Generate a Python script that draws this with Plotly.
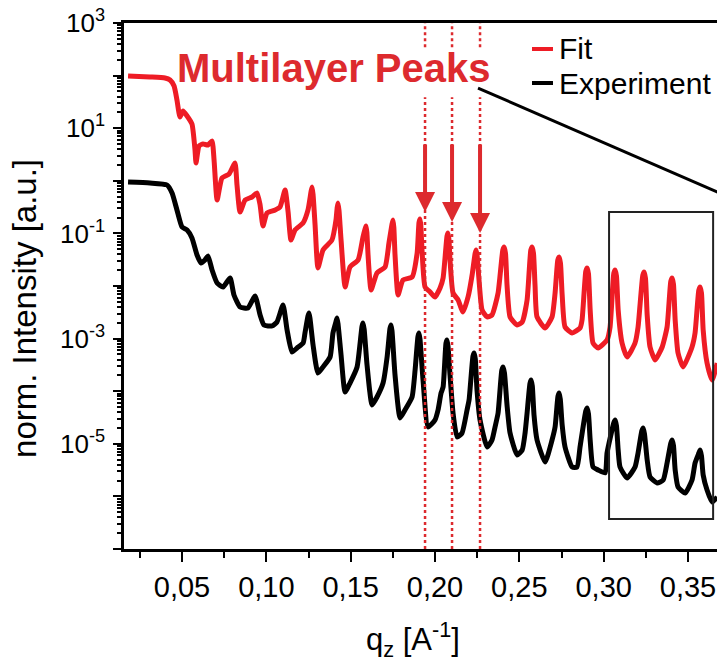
import plotly.graph_objects as go

# ---------------- data ----------------
q_fit = [0.0180, 0.0310, 0.0399, 0.0429, 0.0453, 0.0470, 0.0488, 0.0506, 0.0530, 0.0559,
         0.0577, 0.0583, 0.0601, 0.0625, 0.0654, 0.0678, 0.0690, 0.0708, 0.0737, 0.0779,
         0.0814, 0.0826, 0.0844, 0.0874, 0.0915, 0.0945, 0.0963, 0.0980, 0.1004, 0.1052,
         0.1081, 0.1111, 0.1129, 0.1146, 0.1170, 0.1218, 0.1247, 0.1265, 0.1271, 0.1277, 0.1289, 0.1306,
         0.1336, 0.1389, 0.1413, 0.1420, 0.1425, 0.1431, 0.1443, 0.1467, 0.1496, 0.1544, 0.1573, 0.1585, 0.1591, 0.1596,
         0.1603, 0.1621, 0.1656, 0.1704, 0.1727, 0.1745, 0.1751, 0.1756, 0.1763, 0.1781, 0.1810, 0.1864,
         0.1894, 0.1905, 0.1911, 0.1916, 0.1923, 0.1941, 0.1971, 0.2000, 0.2030, 0.2048, 0.2071, 0.2077, 0.2083, 0.2089,
         0.2107, 0.2137, 0.2166, 0.2196, 0.2220, 0.2238, 0.2244, 0.2250, 0.2261, 0.2279, 0.2309, 0.2338,
         0.2374, 0.2402, 0.2410, 0.2418, 0.2427, 0.2445, 0.2487, 0.2517, 0.2546, 0.2568, 0.2576, 0.2584, 0.2593, 0.2605,
         0.2653, 0.2694, 0.2712, 0.2728, 0.2736, 0.2744, 0.2754, 0.2771, 0.2813, 0.2860, 0.2872, 0.2894, 0.2902, 0.2910,
         0.2920, 0.2937, 0.2967, 0.3020, 0.3038, 0.3060, 0.3068, 0.3076, 0.3086, 0.3109, 0.3139, 0.3186,
         0.3204, 0.3232, 0.3240, 0.3248, 0.3258, 0.3275, 0.3305, 0.3347, 0.3376, 0.3398, 0.3406, 0.3414, 0.3424, 0.3441,
         0.3471, 0.3524, 0.3542, 0.3564, 0.3572, 0.3580, 0.3590, 0.3613, 0.3643, 0.3673]
i_fit = [98, 94, 90, 82.5, 63.4, 34.4, 16.3, 21.2, 17.1, 12.0,
         3.85, 2.18, 4.59, 5.01, 4.79, 5.71, 2.49, 0.432, 1.13, 1.35,
         2.18, 0.832, 0.255, 0.432, 0.492, 0.586, 0.347, 0.138, 0.244, 0.279,
         0.318, 0.669, 0.255, 0.0749, 0.116, 0.158, 0.279, 0.62, 0.763, 0.55, 0.144, 0.0220,
         0.0484, 0.0749, 0.180, 0.31, 0.379, 0.27, 0.0749, 0.00957, 0.0230, 0.0312, 0.0854, 0.12, 0.138, 0.105,
         0.0389, 0.00840, 0.0177, 0.0230, 0.0657, 0.15, 0.180, 0.13, 0.0389, 0.00675, 0.0130, 0.0148,
         0.0424, 0.16, 0.188, 0.14, 0.0484, 0.00957, 0.00769, 0.00618, 0.00917, 0.0142, 0.088, 0.102, 0.075, 0.0312,
         0.00736, 0.00542, 0.00321, 0.00618, 0.0162, 0.042, 0.0484, 0.037, 0.0130, 0.00350, 0.00258, 0.00281,
         0.00736, 0.048, 0.0552, 0.042, 0.0105, 0.00258, 0.00181, 0.00207, 0.00542, 0.048, 0.0552, 0.042, 0.0105, 0.00258,
         0.00159, 0.00258, 0.00736, 0.031, 0.0356, 0.027, 0.00675, 0.00166, 0.00128, 0.00159, 0.00226, 0.019, 0.0220, 0.017,
         0.00350, 0.000825, 0.000663, 0.000941, 0.00166, 0.0175, 0.0202, 0.0155, 0.00350, 0.000825, 0.000447, 0.000825,
         0.00166, 0.016, 0.0185, 0.014, 0.00281, 0.000693, 0.000392, 0.000693, 0.00166, 0.0123, 0.0142, 0.0108, 0.00226, 0.000533,
         0.000289, 0.000693, 0.00128, 0.0083, 0.00957, 0.0073, 0.00146, 0.000344, 0.000163, 0.000344]

q_exp = [0.0180, 0.0310, 0.0411, 0.0441, 0.0470, 0.0500, 0.0530, 0.0559, 0.0589, 0.0613,
         0.0636, 0.0654, 0.0678, 0.0708, 0.0743, 0.0785, 0.0808, 0.0844, 0.0891, 0.0933,
         0.0963, 0.0986, 0.1034, 0.1063, 0.1099, 0.1123, 0.1152, 0.1182, 0.1218, 0.1229,
         0.1247, 0.1253, 0.1259, 0.1277, 0.1306, 0.1336, 0.1378, 0.1395, 0.1413, 0.1419, 0.1425, 0.1443, 0.1467, 0.1496,
         0.1538, 0.1556, 0.1567, 0.1573, 0.1580, 0.1597, 0.1627, 0.1656, 0.1692, 0.1716, 0.1733, 0.1739, 0.1745, 0.1763,
         0.1793, 0.1822, 0.1864, 0.1882, 0.1899, 0.1905, 0.1911, 0.1929, 0.1959, 0.2000, 0.2018, 0.2036,
         0.2048, 0.2065, 0.2071, 0.2077, 0.2089, 0.2107, 0.2131, 0.2160, 0.2190, 0.2202, 0.2225, 0.2232, 0.2239, 0.2249,
         0.2267, 0.2309, 0.2338, 0.2356, 0.2374, 0.2396, 0.2404, 0.2412, 0.2427, 0.2445, 0.2487, 0.2517,
         0.2534, 0.2546, 0.2563, 0.2570, 0.2577, 0.2587, 0.2605, 0.2653, 0.2694, 0.2712, 0.2729, 0.2736, 0.2743, 0.2754,
         0.2771, 0.2813, 0.2842, 0.2860, 0.2894, 0.2902, 0.2910, 0.2920, 0.2937, 0.2967, 0.3009, 0.3020,
         0.3060, 0.3068, 0.3076, 0.3086, 0.3097, 0.3139, 0.3186, 0.3204, 0.3226, 0.3234, 0.3242, 0.3258, 0.3275, 0.3317,
         0.3353, 0.3376, 0.3398, 0.3406, 0.3414, 0.3424, 0.3441, 0.3483, 0.3524, 0.3542, 0.3564, 0.3572, 0.3580, 0.3590,
         0.3613, 0.3643, 0.3673]
i_exp = [0.949, 0.908, 0.832, 0.586, 0.279, 0.132, 0.116, 0.0818, 0.0389, 0.0274,
         0.0312, 0.0372, 0.0202, 0.0114, 0.00957, 0.0142, 0.00675, 0.00399, 0.00382, 0.00646,
         0.00281, 0.00181, 0.00174, 0.00207, 0.00435, 0.00146, 0.000556, 0.000663, 0.000825, 0.00128,
         0.0027, 0.00307, 0.0024, 0.000756, 0.000222, 0.000289, 0.000447, 0.00128, 0.0021, 0.00246, 0.0019, 0.000488, 0.0000966, 0.000143,
         0.000289, 0.000825, 0.0017, 0.00198, 0.0015, 0.000315, 0.0000547, 0.0000776, 0.000143, 0.000447, 0.00155, 0.00181, 0.0014, 0.000203,
         0.0000310, 0.0000439, 0.0000776, 0.000253, 0.0011, 0.00128, 0.00098, 0.000163, 0.0000209, 0.0000284, 0.0000439, 0.0000925,
         0.000120, 0.00082, 0.000941, 0.00072, 0.000203, 0.0000385, 0.0000135, 0.0000160, 0.0000439, 0.0000681, 0.00046, 0.000533, 0.00041, 0.000105,
         0.0000284, 0.00000870, 0.0000118, 0.0000209, 0.0000385, 0.00025, 0.000289, 0.00022, 0.0000547, 0.0000160, 0.00000613, 0.00000762,
         0.0000160, 0.0000385, 0.00014, 0.000163, 0.000125, 0.0000353, 0.0000118, 0.00000451, 0.0000118, 0.0000209, 0.00008, 0.0000925, 0.00007, 0.0000228,
         0.00000870, 0.00000362, 0.00000362, 0.00000870, 0.000042, 0.0000479, 0.000037, 0.0000118, 0.00000362, 0.00000318, 0.00000279, 0.00000669,
         0.000025, 0.0000284, 0.000022, 0.00000762, 0.00000362, 0.00000224, 0.00000362, 0.00000669, 0.0000175, 0.0000200, 0.0000155, 0.00000492, 0.00000234, 0.00000180,
         0.00000205, 0.00000432, 0.0000103, 0.0000118, 0.0000092, 0.00000318, 0.00000151, 0.00000116, 0.00000205, 0.00000432, 0.0000066, 0.00000762, 0.0000059, 0.00000255,
         0.00000132, 0.000000783, 0.000000975]

peak_q = [0.1941, 0.2101, 0.2267]          # marked multilayer peaks
zoom_q = [0.3032, 0.3649]                  # zoom-box q range
x_ticks = [0.05, 0.10, 0.15, 0.20, 0.25, 0.30, 0.35]
y_exponents = list(range(-7, 4))
y_label_exponents = [3, 1, -1, -3, -5]
legend_names = ["Fit", "Experiment"]

# ---------------- styling ----------------
RED_LINE = "#ee1c25"
RED_ANN = "#dd2a2e"
FONT = "Liberation Sans, Arial, Helvetica, sans-serif"

fig = go.Figure()
fig.add_trace(go.Scatter(x=q_fit, y=i_fit, mode="lines", name=legend_names[0],
                         line=dict(color=RED_LINE, width=5, shape="spline", smoothing=0.5),
                         showlegend=False))
fig.add_trace(go.Scatter(x=q_exp, y=i_exp, mode="lines", name=legend_names[1],
                         line=dict(color="black", width=5, shape="spline", smoothing=0.5),
                         showlegend=False))

tickvals = [10.0 ** e for e in y_exponents]
ticktext = [("10<sup>%d</sup>" % e) if e in y_label_exponents else "" for e in y_exponents]
minor_vals = [k * 10.0 ** e for e in y_exponents[:-1] for k in range(2, 10)]

fig.update_xaxes(range=[0.0156, 0.3672], tickmode="array", tickvals=x_ticks,
                 tickformat=".2f", ticks="outside", ticklen=10, tickwidth=2,
                 tickcolor="black", showline=True, linewidth=2.5, linecolor="black",
                 mirror=True, showgrid=False, zeroline=False,
                 tickfont=dict(size=29, family=FONT, color="black"),
                 minor=dict(ticks="outside", ticklen=6, tickwidth=2, tickcolor="black",
                            tickmode="array",
                            tickvals=[v + 0.025 for v in [0.0] + x_ticks]))
fig.update_yaxes(type="log", range=[-7, 3], tickmode="array", tickvals=tickvals,
                 ticktext=ticktext, ticks="outside", ticklen=8, tickwidth=2,
                 tickcolor="black", showline=True, linewidth=2.5, linecolor="black",
                 mirror=False, showgrid=False, zeroline=False, ticklabelstandoff=3,
                 tickfont=dict(size=26, family=FONT, color="black"),
                 minor=dict(ticks="outside", ticklen=4, tickwidth=1.5, tickcolor="black",
                            tickmode="array", tickvals=minor_vals))

shapes = []
for q in peak_q:
    shapes.append(dict(type="line", xref="x", yref="paper", x0=q, x1=q, y0=0.954, y1=1.0,
                       line=dict(color=RED_ANN, width=2.5, dash="dot")))
    shapes.append(dict(type="line", xref="x", yref="paper", x0=q, x1=q, y0=0.0, y1=0.859,
                       line=dict(color=RED_ANN, width=2.5, dash="dot")))
shapes.append(dict(type="rect", xref="x", yref="paper", x0=zoom_q[0], x1=zoom_q[1],
                   y0=0.057, y1=0.6407, line=dict(color="#222222", width=2)))
shapes.append(dict(type="line", xref="paper", yref="paper", x0=0.597, y0=0.8764,
                   x1=1.01, y1=0.674, line=dict(color="black", width=3)))

# legend (drawn as line samples + labels)
legend_rows = [(legend_names[0], RED_LINE, 0.9506), (legend_names[1], "black", 0.8859)]
annotations = []
for name, col, yy in legend_rows:
    shapes.append(dict(type="line", xref="paper", yref="paper", x0=0.688, x1=0.7234,
                       y0=yy, y1=yy, line=dict(color=col, width=4)))
    annotations.append(dict(text=name, xref="paper", yref="paper", x=0.7310, y=yy,
                            xanchor="left", yanchor="middle", showarrow=False,
                            font=dict(size=30, family=FONT, color="black")))

annotations += [
    dict(text="<b>Multilayer Peaks</b>", xref="paper", yref="paper", x=0.354, y=0.9144,
         xanchor="center", yanchor="middle", showarrow=False,
         font=dict(size=40, family=FONT, color=RED_ANN)),
    dict(text="norm. Intensity [a.u.]", xref="paper", yref="paper", x=-0.1670, y=0.4582,
         textangle=-90, xanchor="center", yanchor="middle", showarrow=False,
         font=dict(size=33, family=FONT, color="black")),
    dict(text="q<sub>z</sub> [A<sup>-1</sup>]", xref="paper", yref="paper", x=0.4874, y=-0.173,
         xanchor="center", yanchor="middle", showarrow=False,
         font=dict(size=31, family=FONT, color="black")),
]
tips = [0.6407, 0.6217, 0.6008]
tails = [-69, -79, -90]
for q, tip, tail in zip(peak_q, tips, tails):
    annotations.append(dict(text="", x=q, xref="x", y=tip, yref="paper", ax=0, ay=tail,
                            showarrow=True, arrowhead=2, arrowsize=1, arrowwidth=4,
                            arrowcolor=RED_ANN, standoff=0))

fig.update_layout(width=717, height=662, margin=dict(l=124, r=0, t=23, b=113),
                  paper_bgcolor="white", plot_bgcolor="white", separators=",.",
                  font=dict(family=FONT, color="black"),
                  shapes=shapes, annotations=annotations, showlegend=False)

fig.write_html("out.html", config={"displayModeBar": False},
               post_script="document.body.style.margin='0px';document.body.style.overflow='hidden';")
